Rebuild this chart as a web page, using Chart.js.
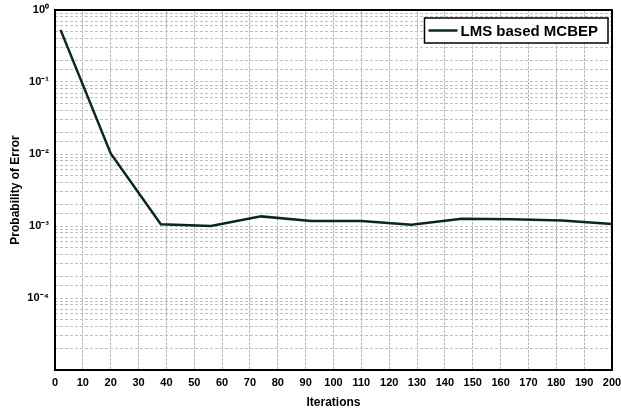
<!DOCTYPE html>
<html>
<head>
<meta charset="utf-8">
<script src="https://cdn.jsdelivr.net/npm/chart.js@4.4.1/dist/chart.umd.min.js"></script>
<style>
  html, body { margin: 0; padding: 0; background: #ffffff; }
  #wrap { width: 621px; height: 410px; }
</style>
</head>
<body>
<div id="wrap"><canvas id="errChart" width="621" height="410"></canvas></div>
<script>
// iterations et probabilité d'erreur
const iterations = [2, 20, 38, 56, 74, 92, 110, 128, 146, 164, 182, 200];
const probError = [0.53, 0.0102, 0.00106, 0.00100, 0.00136, 0.00117, 0.00117, 0.00104, 0.00126, 0.00124, 0.00119, 0.00107];
const seriesLabel = 'LMS based MCBEP';
const supers = { '0': '\u2070', '1': '\u00b9', '2': '\u00b2', '3': '\u00b3', '4': '\u2074', '5': '\u2075', '-': '\u207b' };

function powLabel(v) {
    const e = Math.round(Math.log10(v));
    if (Math.abs(v - Math.pow(10, e)) > 1e-12 * Math.pow(10, e)) return '';
    if (e === -5) return '';
    return '10' + String(e).split('').map(c => supers[c]).join('');
}

// cadre noir autour de la zone de tracé + légende encadrée en haut à droite
const framePlugin = {
    id: 'frame',
    afterDraw(chart) {
        const a = chart.chartArea, c = chart.ctx;
        const ds = chart.data.datasets[0];
        c.save();
        c.strokeStyle = '#000';
        c.lineWidth = 2;
        c.strokeRect(a.left, a.top, a.right - a.left, a.bottom - a.top);

        c.font = 'bold 15px "Liberation Sans"';
        const tw = c.measureText(ds.label).width;
        const bx1 = a.right - 4, bx0 = bx1 - tw - 46;
        const by0 = a.top + 8, by1 = by0 + 25;
        c.fillStyle = '#fff';
        c.fillRect(bx0, by0, bx1 - bx0, by1 - by0);
        c.lineWidth = 1.5;
        c.strokeRect(bx0, by0, bx1 - bx0, by1 - by0);
        c.strokeStyle = ds.borderColor;
        c.lineWidth = 2.5;
        c.beginPath();
        c.moveTo(bx0 + 4, (by0 + by1) / 2);
        c.lineTo(bx0 + 33, (by0 + by1) / 2);
        c.stroke();
        c.fillStyle = '#000';
        c.textBaseline = 'middle';
        c.fillText(ds.label, bx0 + 36, (by0 + by1) / 2 + 1);
        c.restore();
    }
};

const ctx = document.getElementById('errChart').getContext('2d');
new Chart(ctx, {
    type: 'line',
    data: {
        datasets: [{
            label: seriesLabel,
            data: iterations.map((x, i) => ({ x: x, y: probError[i] })),
            borderColor: '#0b2626',
            backgroundColor: '#0b2626',
            borderWidth: 2.5,
            pointRadius: 0,
            tension: 0
        }]
    },
    options: {
        responsive: false,
        animation: false,
        layout: { padding: { top: 10, right: 9, left: 0, bottom: 0 } },
        plugins: {
            legend: { display: false },
            tooltip: { enabled: false }
        },
        scales: {
            x: {
                type: 'linear',
                min: 0,
                max: 200,
                afterFit(scale) { scale.height = 40; scale.paddingRight = 0; scale.paddingLeft = 0; },
                ticks: {
                    stepSize: 10,
                    color: '#000',
                    font: { family: 'Liberation Sans', size: 11, weight: 'bold' },
                    maxRotation: 0,
                    padding: 6
                },
                grid: { color: '#b8b8b8', lineWidth: 1, drawTicks: false },
                border: { display: false, dash: [3, 1] },
                title: {
                    display: true,
                    text: 'Iterations',
                    color: '#000',
                    font: { family: 'Liberation Sans', size: 12, weight: 'bold' },
                    padding: { top: 0, bottom: 0 }
                }
            },
            y: {
                type: 'logarithmic',
                min: 1e-5,
                max: 1,
                afterFit(scale) { scale.width = 55; scale.paddingTop = 0; scale.paddingBottom = 0; },
                ticks: {
                    color: '#000',
                    font: { family: 'Liberation Sans', size: 11, weight: 'bold' },
                    autoSkip: false,
                    padding: 6,
                    callback: (v) => powLabel(v)
                },
                grid: {
                    color: '#c0c0c0',
                    lineWidth: 1,
                    drawTicks: false
                },
                border: { display: false, dash: [3, 2] },
                title: {
                    display: true,
                    text: 'Probability of Error',
                    color: '#000',
                    font: { family: 'Liberation Sans', size: 12, weight: 'bold' },
                    padding: { top: 8, bottom: 2 }
                }
            }
        }
    },
    plugins: [framePlugin]
});
</script>
</body>
</html>
